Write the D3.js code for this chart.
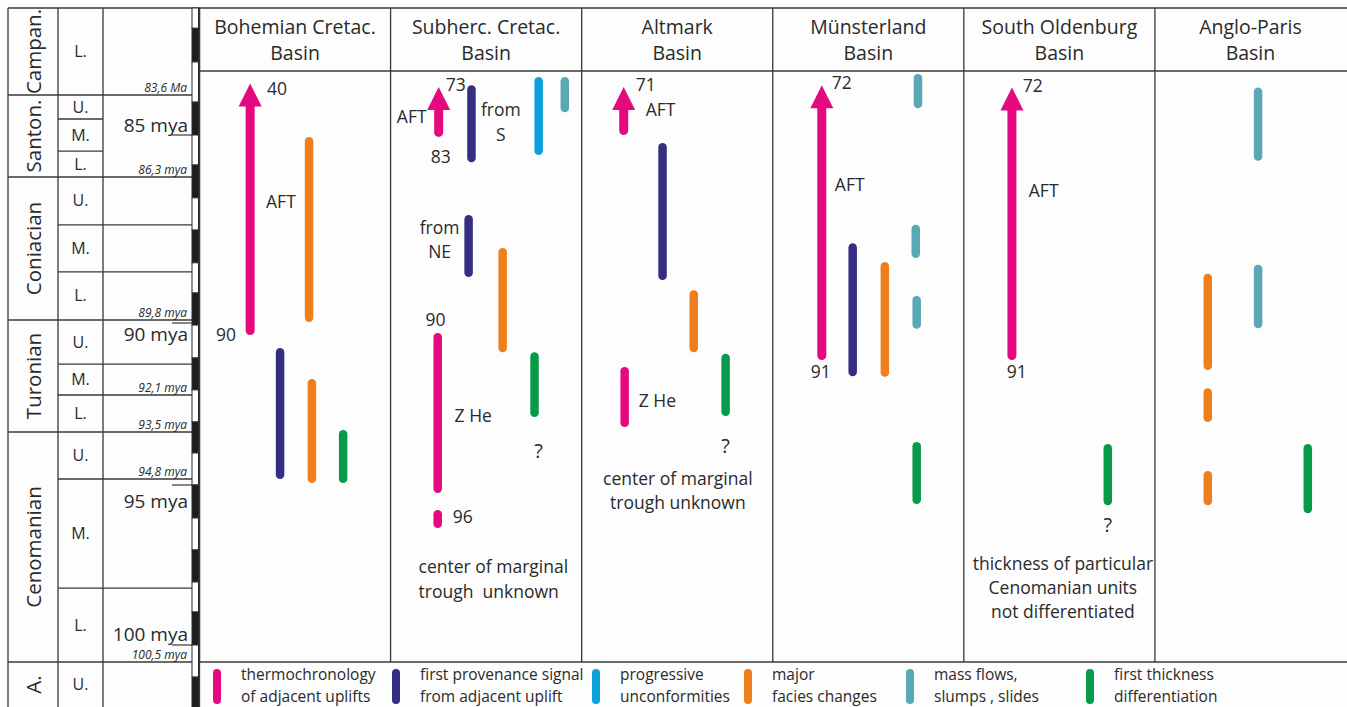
<!DOCTYPE html>
<html><head><meta charset="utf-8">
<script src="https://cdn.jsdelivr.net/npm/d3@7"></script>
<style>
body{margin:0;background:#fff}
svg{display:block}
text{font-family:"Open Sans",sans-serif;fill:#2a2a2a}
</style>
</head><body>
<svg id="c" width="1347" height="707"></svg>
<script>
// ---------------- DATA ----------------
const basinNames = [["Bohemian Cretac.","Basin"],["Subherc. Cretac.","Basin"],["Altmark","Basin"],["Münsterland","Basin"],["South Oldenburg","Basin"],["Anglo-Paris","Basin"]];

// non-linear time axis (Ma) read from the stratigraphic column
const ageAnchors = [80.6, 83.6, 85, 86.3, 89.8, 90, 92.1, 93.5, 94.8, 95, 100, 100.5, 101.9];

const stages = ["Campan.","Santon.","Coniacian","Turonian","Cenomanian","A."];
const stageTop = [80.6, 83.6, 86.3, 89.8, 93.5, 100.5];
const stageBottom = [83.6, 86.3, 89.8, 93.5, 100.5, 101.9];

const substages = ["L.","U.","M.","L.","U.","M.","L.","U.","M.","L.","U.","M.","L.","U."];
const substageTop = [80.6, 83.6, 84.44, 85.5, 86.3, 87.47, 88.62, 89.8, 91.2, 92.1, 93.5, 94.8, 98.22, 100.5];
const substageBottom = [83.6, 84.44, 85.5, 86.3, 87.47, 88.62, 89.8, 91.2, 92.1, 93.5, 94.8, 98.22, 100.5, 101.9];
const narrowBoundaries = [84.44, 85.5];

const ageLabels = ["83,6 Ma","86,3 mya","89,8 mya","92,1 mya","93,5 mya","94,8 mya","100,5 mya"];
const ageLabelAt = [83.6, 86.3, 89.8, 92.1, 93.5, 94.8, 100.5];

const majorTicks = [85, 90, 95, 100];
const majorLabels = ["85 mya","90 mya","95 mya","100 mya"];
const majorBelow = [false, true, true, false];

const scaleBarAges = [80.6, 81.3, 82.46, 83.85, 85, 85.93, 86.81, 87.6, 88.4, 89.14, 90.06, 91.02, 91.95, 93.12, 94.08, 95, 96.03, 97.03, 98.03, 98.97, 100, 100.97, 101.9];

// bars: [basin, lane, topAge, bottomAge, arrow]
const thermoBars = [
  [0, 0.09, 83.2, 90.35, 1],
  [1, 0.01, 83.32, 85.06, 1],
  [1, -0.02, 90.29, 95.25, 0],
  [1, -0.02, 95.78, 96.34, 0],
  [2, -0.18, 83.32, 85.0, 1],
  [2, -0.15, 91.28, 93.31, 0],
  [3, 0.04, 83.26, 91.08, 1],
  [4, 0.01, 83.34, 91.08, 1]
];
const provenanceBars = [
  [0, 1.03, 90.73, 94.8],
  [1, 1.04, 83.26, 85.84],
  [1, 0.95, 87.23, 88.75],
  [2, 1.04, 85.25, 88.82],
  [3, 1.01, 87.92, 91.55]
];
const unconformityBars = [
  [1, 3.15, 82.98, 85.62]
];
const faciesBars = [
  [0, 1.94, 85.06, 89.93],
  [0, 2.03, 91.63, 94.93],
  [1, 2.02, 88.04, 90.85],
  [2, 2.02, 89.07, 90.85],
  [3, 2.02, 88.38, 91.57],
  [5, 0.16, 88.67, 91.37],
  [5, 0.16, 91.9, 93.12],
  [5, 0.16, 94.58, 95.63]
];
const massFlowBars = [
  [1, 3.97, 82.98, 84.2],
  [3, 3.06, 82.88, 84.06],
  [3, 2.99, 87.47, 88.28],
  [3, 3.02, 89.21, 90.17],
  [5, 1.74, 83.34, 85.8],
  [5, 1.74, 88.45, 90.15]
];
const thicknessBars = [
  [0, 3.01, 93.42, 94.93],
  [1, 3.02, 90.85, 92.93],
  [2, 3.02, 90.9, 92.89],
  [3, 3.02, 93.78, 95.59],
  [4, 3.02, 93.83, 95.63],
  [5, 3.3, 93.83, 95.88]
];

// annotations: [basin, lane, age(baseline), text, anchor]
const annotations = [
  [0, 0.62, 83.6, "40", "start"],
  [0, 0.59, 87.06, "AFT", "start"],
  [0, -0.98, 90.52, "90", "start"],
  [1, -0.37, 84.58, "AFT", "end"],
  [1, 0.23, 83.46, "73", "start"],
  [1, -0.24, 85.87, "83", "start"],
  [1, 1.96, 84.34, "from", "middle"],
  [1, 1.96, 85.19, "S", "middle"],
  [1, 0.04, 87.7, "from", "middle"],
  [1, 0.04, 88.28, "NE", "middle"],
  [1, -0.4, 90.09, "90", "start"],
  [1, 0.51, 93.12, "Z He", "start"],
  [1, 0.45, 96.19, "96", "start"],
  [1, 3.15, 94.22, "?", "middle"],
  [1, -0.62, 97.75, "center of marginal", "start"],
  [1, -0.62, 98.53, "trough  unknown", "start"],
  [2, 0.2, 83.46, "71", "start"],
  [2, 0.51, 84.34, "AFT", "start"],
  [2, 0.29, 92.55, "Z He", "start"],
  [2, 3.02, 94.08, "?", "middle"],
  [2, 1.52, 95.0, "center of marginal", "middle"],
  [2, 1.52, 95.75, "trough unknown", "middle"],
  [3, 0.35, 83.39, "72", "start"],
  [3, 0.45, 86.64, "AFT", "start"],
  [3, -0.31, 91.6, "91", "start"],
  [4, 0.35, 83.5, "72", "start"],
  [4, 0.54, 86.79, "AFT", "start"],
  [4, -0.15, 91.6, "91", "start"],
  [4, 3.02, 96.47, "?", "middle"],
  [4, 1.61, 97.66, "thickness of particular", "middle"],
  [4, 1.61, 98.41, "Cenomanian units", "middle"],
  [4, 1.61, 99.16, "not differentiated", "middle"]
];

const legendLabels = [["thermochronology","of adjacent uplifts"],["first provenance signal","from adjacent uplift"],["progressive","unconformities"],["major","facies changes"],["mass flows,","slumps , slides"],["first thickness","differentiation"]];
const categoryColors = ["#e5097f","#352e80","#0ca0dd","#ee7f1c","#5aa8b5","#069a49"];

// ---------------- LAYOUT ----------------
const svg = d3.select("#c");
const X0 = 8, C1 = 58, C2 = 103, C3 = 192, BARR = 198.5, B0 = 199.5, BR = 1346;
const TOP = 8, HEAD = 71, LEG = 662, BOT = 707;
const pxAnchors = [8, 95, 135, 177, 320, 323, 395, 432, 479, 485, 645, 662, 707];
const y = d3.scaleLinear().domain(ageAnchors).range(pxAnchors);
const xb = d3.scaleBand().domain(d3.range(basinNames.length)).range([B0, BR]);
const lane = d3.scaleLinear().domain([-1.5, 4.5]).range([0, xb.bandwidth()]);
const bx = (b, l) => xb(b) + lane(l);
const LC = "#383838";

svg.append("rect").attr("width",1347).attr("height",707).attr("fill","#fdfdfd");

const lines = svg.append("g").attr("stroke", LC).attr("stroke-width", 1.3).attr("fill","none");
function hl(x1,x2,yy){ lines.append("line").attr("x1",x1).attr("x2",x2).attr("y1",yy).attr("y2",yy); }
function vl(xx,y1,y2){ lines.append("line").attr("x1",xx).attr("x2",xx).attr("y1",y1).attr("y2",y2); }

// outer frame
hl(X0, 1347, TOP);
vl(X0, TOP, BOT); vl(C1, TOP, BOT); vl(C2, TOP, BOT);
// stage boundaries
stageTop.forEach((a,i) => { if (i>0) hl(X0, C3, y(a)); });
// substage boundaries
substageTop.forEach((a) => {
  if (stageTop.includes(a) || a === ageAnchors[0]) return;
  const narrow = narrowBoundaries.includes(a);
  hl(C1, narrow ? C2 : C3, y(a));
});
// basin frame
hl(B0, 1347, HEAD);
hl(B0, 1347, LEG);
d3.range(basinNames.length).forEach(i => vl(xb(i), TOP, LEG));
vl(B0, TOP, BOT);

// scale bar
const sb = svg.append("g");
d3.pairs(scaleBarAges).forEach(([a0,a1], i) => {
  sb.append("rect").attr("x", C3).attr("width", BARR - C3)
    .attr("y", y(a0)).attr("height", y(a1) - y(a0))
    .attr("fill", i % 2 ? "#1d1d1d" : "#fff")
    .attr("stroke", "#2a2a2a").attr("stroke-width", 1);
});

// major ticks
majorTicks.forEach((t,i) => {
  lines.append("line").attr("x1", 172).attr("x2", C3).attr("y1", y(t)).attr("y2", y(t)).attr("stroke-width",1.2);
  svg.append("text").attr("x", 188).attr("y", majorBelow[i] ? y(t) + (i===1?18:23) : y(t) - (i===3?4:3))
    .attr("text-anchor","end").attr("font-size", 19).text(majorLabels[i]);
});

// age labels (italic)
ageLabels.forEach((l,i) => {
  svg.append("text").attr("x", 187).attr("y", y(ageLabelAt[i]) - 3.5)
    .attr("text-anchor","end").attr("font-size", 12).attr("font-style","italic").text(l);
});

// stage names
stages.forEach((s,i) => {
  const cy = (y(stageTop[i]) + y(stageBottom[i])) / 2;
  svg.append("text").attr("transform", `translate(${(X0+C1)/2+7.5},${cy}) rotate(-90)`)
    .attr("text-anchor","middle").attr("font-size", 20.5).text(s);
});
// substage names
substages.forEach((s,i) => {
  const cy = (y(substageTop[i]) + y(substageBottom[i])) / 2;
  svg.append("text").attr("x", (C1 + C2)/2).attr("y", cy + 5.5)
    .attr("text-anchor","middle").attr("font-size", 16).text(s);
});

// basin headers
basinNames.forEach((n,i) => {
  const cx = xb(i) + xb.bandwidth()/2;
  n.forEach((t,j) => svg.append("text").attr("x", cx).attr("y", 33.5 + j*26.5)
    .attr("text-anchor","middle").attr("font-size", 19.5).text(t));
});

// bars
const marks = svg.append("g");
const BW = 8.5;
function drawBars(arr, color) {
  arr.forEach(d => {
    const cx = bx(d[0], d[1]);
    const y0 = y(d[2]), y1 = y(d[3]);
    if (d[4]) {
      const head = 23;
      marks.append("rect").attr("x", cx - 4.5).attr("width", 9).attr("rx", 4.5)
        .attr("y", y0 + 14).attr("height", y1 - y0 - 14).attr("fill", color);
      marks.append("path").attr("d", `M${cx},${y0} L${cx-11.5},${y0+head} L${cx+11.5},${y0+head} Z`).attr("fill", color);
    } else {
      marks.append("rect").attr("x", cx - BW/2).attr("width", BW).attr("rx", BW/2)
        .attr("y", y0).attr("height", y1 - y0).attr("fill", color);
    }
  });
}
[thermoBars, provenanceBars, unconformityBars, faciesBars, massFlowBars, thicknessBars]
  .forEach((arr,i) => drawBars(arr, categoryColors[i]));

// annotations
annotations.forEach(a => {
  svg.append("text").attr("x", bx(a[0], a[1])).attr("y", y(a[2]))
    .attr("text-anchor", a[4]).attr("font-size", a[3] === "?" ? 20 : 17.5)
    .style("white-space","pre").text(a[3]);
});

// legend
const legBarX = [217, 396, 596, 748, 910, 1090];
legendLabels.forEach((l,i) => {
  svg.append("rect").attr("x", legBarX[i] - 4).attr("width", 8).attr("rx", 4)
    .attr("y", 669).attr("height", 35).attr("fill", categoryColors[i]);
  l.forEach((t,j) => svg.append("text").attr("x", legBarX[i] + 24).attr("y", 680 + j*22)
    .attr("font-size", 15.5).text(t));
});
</script>
</body></html>
